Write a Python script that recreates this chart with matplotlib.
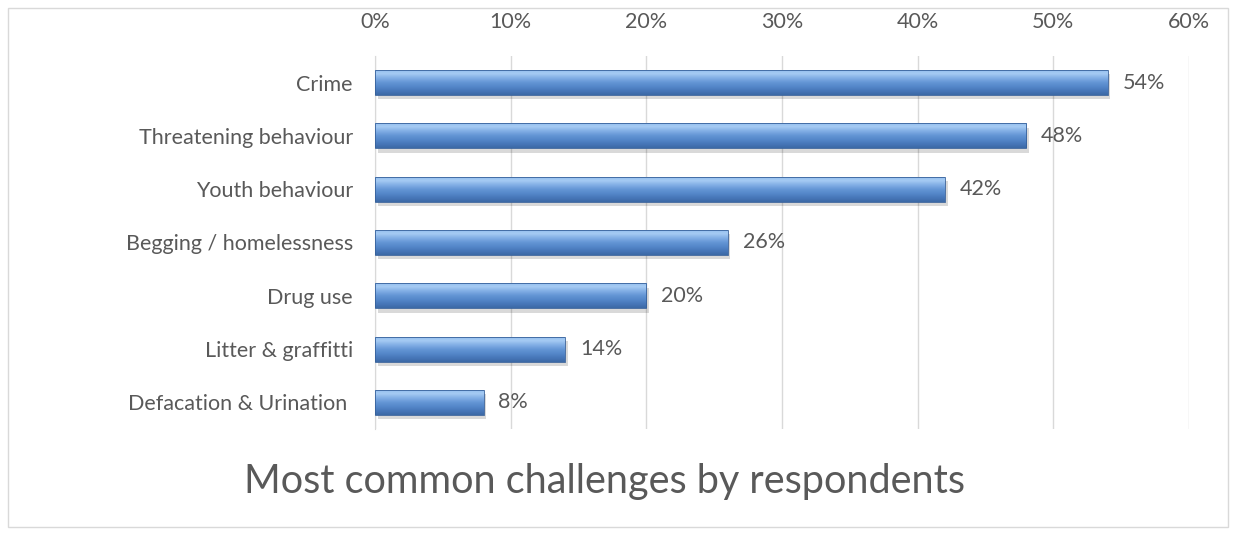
import matplotlib
matplotlib.use("Agg")
import matplotlib.pyplot as plt
import numpy as np
from matplotlib.patches import Rectangle
from matplotlib.colors import LinearSegmentedColormap

categories = ["Crime", "Threatening behaviour", "Youth behaviour", "Begging / homelessness",
              "Drug use", "Litter & graffitti", "Defacation & Urination "]
values = [54, 48, 42, 26, 20, 14, 8]
xticks = [0, 10, 20, 30, 40, 50, 60]
title = "Most common challenges by respondents"

plt.rcParams['font.family'] = ['Lato', 'DejaVu Sans']
grey = '#595959'

fig = plt.figure(figsize=(12.36, 5.35), dpi=100)
ax = fig.add_axes([375/1236, 1-429/535, (1189-375)/1236, (429-56)/535])

y = np.arange(len(categories))
bars = ax.barh(y, values, height=0.47, color='#4F81BD', edgecolor='none', zorder=3)

cmap = LinearSegmentedColormap.from_list('bev', ['#8FBBEE', '#A6CBF3', '#84B0E6', '#6697D6', '#5588CA', '#4878BA', '#3C69A6'])
grad = np.linspace(0, 1, 64).reshape(-1, 1)
for b in bars:
    x0, y0, w, h = b.get_x(), b.get_y(), b.get_width(), b.get_height()
    ax.add_patch(Rectangle((x0+0.2, y0+0.08), w, h, facecolor='#000000', alpha=0.15, zorder=2, edgecolor='none'))
    im = ax.imshow(grad, extent=(x0, x0+w, y0+h, y0), aspect='auto', cmap=cmap, zorder=4, interpolation='bilinear')
    im.set_clip_path(b)
    ax.add_patch(Rectangle((x0, y0), w, h, facecolor='none', edgecolor='#36609A', linewidth=0.6, zorder=5))
ax.set_ylim(len(categories)-0.5, -0.5)
ax.set_xlim(0, 60)

for yi, v in zip(y, values):
    ax.text(v + 1.1, yi, f"{v}%", va='center', ha='left', fontsize=15.5, color=grey, zorder=6)

ax.xaxis.tick_top()
ax.set_xticks(xticks)
ax.set_xticklabels([f"{t}%" for t in xticks], fontsize=15.5, color=grey)
ax.tick_params(axis='x', length=0, pad=17)
ax.set_yticks(y)
ax.set_yticklabels(categories, fontsize=15.5, color=grey)
ax.tick_params(axis='y', length=0, pad=16)
ax.grid(axis='x', color='#D9D9D9', linewidth=1, zorder=0)
for s in ['top', 'right', 'bottom']:
    ax.spines[s].set_visible(False)
ax.spines['left'].set_color('#D9D9D9')
ax.spines['left'].set_zorder(1)

fig.text(605/1236, 1-482/535, title, ha='center', va='center', fontsize=28.5, color=grey)

fig.patches.append(Rectangle((8/1236, 8/535), 1220/1236, 519/535, transform=fig.transFigure,
                             facecolor='none', edgecolor='#D9D9D9', linewidth=1))
fig.savefig('out.png', dpi=100)
